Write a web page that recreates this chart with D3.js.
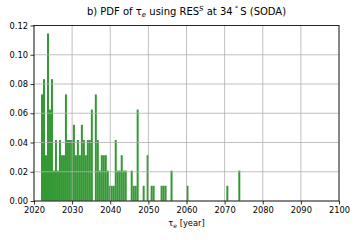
<!DOCTYPE html>
<html>
<head>
<meta charset="utf-8">
<script src="https://cdn.jsdelivr.net/npm/d3@7"></script>
<style>
  body { margin: 0; background: #fff; }
  text { font-family: "DejaVu Sans", sans-serif; fill: #000; }
</style>
</head>
<body>
<svg id="chart"></svg>
<script>
// histogram of tau_e (density), 100 equal bins between the min and max year
const binLo = 2021.84, binHi = 2074.11;
const density = [
  0.0729, 0.0833, 0.0313, 0.1146, 0.0625, 0.0833, 0.0208, 0.0417, 0.0208, 0.0417,
  0.0313, 0.0313, 0.0729, 0.0417, 0.0417, 0.0417, 0.0521, 0.0313, 0.0417, 0.0313,
  0.0521, 0.0417, 0.0313, 0.0417, 0.0417, 0.0625, 0, 0.0729, 0.0417, 0.0208,
  0.0313, 0.0313, 0.0313, 0.0208, 0.0104, 0.0104, 0.0104, 0.0417, 0.0208, 0.0208,
  0.0313, 0.0208, 0.0208, 0, 0, 0.0208, 0.0104, 0.0104, 0.0625, 0,
  0, 0.0104, 0, 0.0313, 0, 0.0104, 0.0104, 0, 0, 0,
  0.0104, 0.0104, 0.0104, 0, 0, 0.0208, 0, 0, 0, 0,
  0, 0, 0, 0.0104, 0, 0, 0, 0, 0, 0,
  0, 0, 0, 0, 0, 0, 0, 0, 0, 0,
  0, 0, 0, 0.0104, 0, 0, 0, 0, 0, 0.0208
];
const xTicks = [2020, 2030, 2040, 2050, 2060, 2070, 2080, 2090, 2100];
const yTicks = [0, 0.02, 0.04, 0.06, 0.08, 0.10, 0.12];

var W = 359, H = 240;
var margin = { top: 25.5, right: 20, bottom: 39, left: 34 };

const svg = d3.select("#chart").attr("width", W).attr("height", H);

var x = d3.scaleLinear().domain([2020, 2100]).range([margin.left, W - margin.right]);
var y = d3.scaleLinear().domain([0, 0.12]).range([H - margin.bottom, margin.top]);

var nb = density.length, bw = (binHi - binLo) / nb;
var bins = density.map((v, i) => ({ x0: binLo + i * bw, x1: binLo + (i + 1) * bw, v: v }));

// bars
svg.append("g")
    .selectAll("rect")
    .data(bins.filter((d) => d.v > 0))
    .join("rect")
    .attr("x", (d) => x(d.x0))
    .attr("width", (d) => x(d.x1) - x(d.x0))
    .attr("y", (d) => y(d.v))
    .attr("height", (d) => y(0) - y(d.v))
    .attr("fill", "#339933");

// grid on top of the bars (matplotlib default)
svg.append("g")
    .selectAll("line")
    .data(xTicks)
    .join("line")
    .attr("x1", (d) => x(d)).attr("x2", (d) => x(d))
    .attr("y1", y(0)).attr("y2", y(0.12))
    .attr("stroke", "#b0b0b0").attr("stroke-width", 0.8);
svg.append("g")
    .selectAll("line")
    .data(yTicks)
    .join("line")
    .attr("x1", x(2020)).attr("x2", x(2100))
    .attr("y1", (d) => y(d)).attr("y2", (d) => y(d))
    .attr("stroke", "#b0b0b0").attr("stroke-width", 0.8);

// axes
var xAxis = svg.append("g")
    .attr("transform", `translate(0,${y(0)})`)
    .call(d3.axisBottom(x).tickValues(xTicks).tickFormat(d3.format("d")).tickSize(3.5).tickPadding(2.5));
var yAxis = svg.append("g")
    .attr("transform", `translate(${x(2020)},0)`)
    .call(d3.axisLeft(y).tickValues(yTicks).tickFormat(d3.format(".2f")).tickSize(3.5).tickPadding(2.5));
[xAxis, yAxis].forEach((a) => {
    a.select(".domain").remove();
    a.selectAll("line").attr("stroke", "#000").attr("stroke-width", 0.8);
    a.selectAll("text").attr("font-size", 8.3).style("font-family", "DejaVu Sans");
});

// frame
svg.append("rect")
    .attr("x", x(2020)).attr("y", y(0.12))
    .attr("width", x(2100) - x(2020)).attr("height", y(0) - y(0.12))
    .attr("fill", "none").attr("stroke", "#000").attr("stroke-width", 0.8);

// title
var title = svg.append("text")
    .attr("x", (x(2020) + x(2100)) / 2).attr("y", 15)
    .attr("text-anchor", "middle").attr("font-size", 10);
title.append("tspan").text("b) PDF of τ");
title.append("tspan").attr("font-style", "italic").attr("font-size", 7).attr("dy", 2).text("e");
title.append("tspan").attr("dy", -2).text(" using RES");
title.append("tspan").attr("font-style", "italic").attr("font-size", 7).attr("dy", -4).text("S");
title.append("tspan").attr("dy", 4).text(" at 34\u2009");
title.append("tspan").attr("font-size", 7).attr("dy", -4).text("°");
title.append("tspan").attr("dy", 4).text("\u2009S (SODA)");

// x label
var xl = svg.append("text")
    .attr("x", (x(2020) + x(2100)) / 2).attr("y", 226)
    .attr("text-anchor", "middle").attr("font-size", 8.3);
xl.append("tspan").text("τ");
xl.append("tspan").attr("font-style", "italic").attr("font-size", 6).attr("dy", 1.5).text("e");
xl.append("tspan").attr("dy", -1.5).text(" [year]");
</script>
</body>
</html>
